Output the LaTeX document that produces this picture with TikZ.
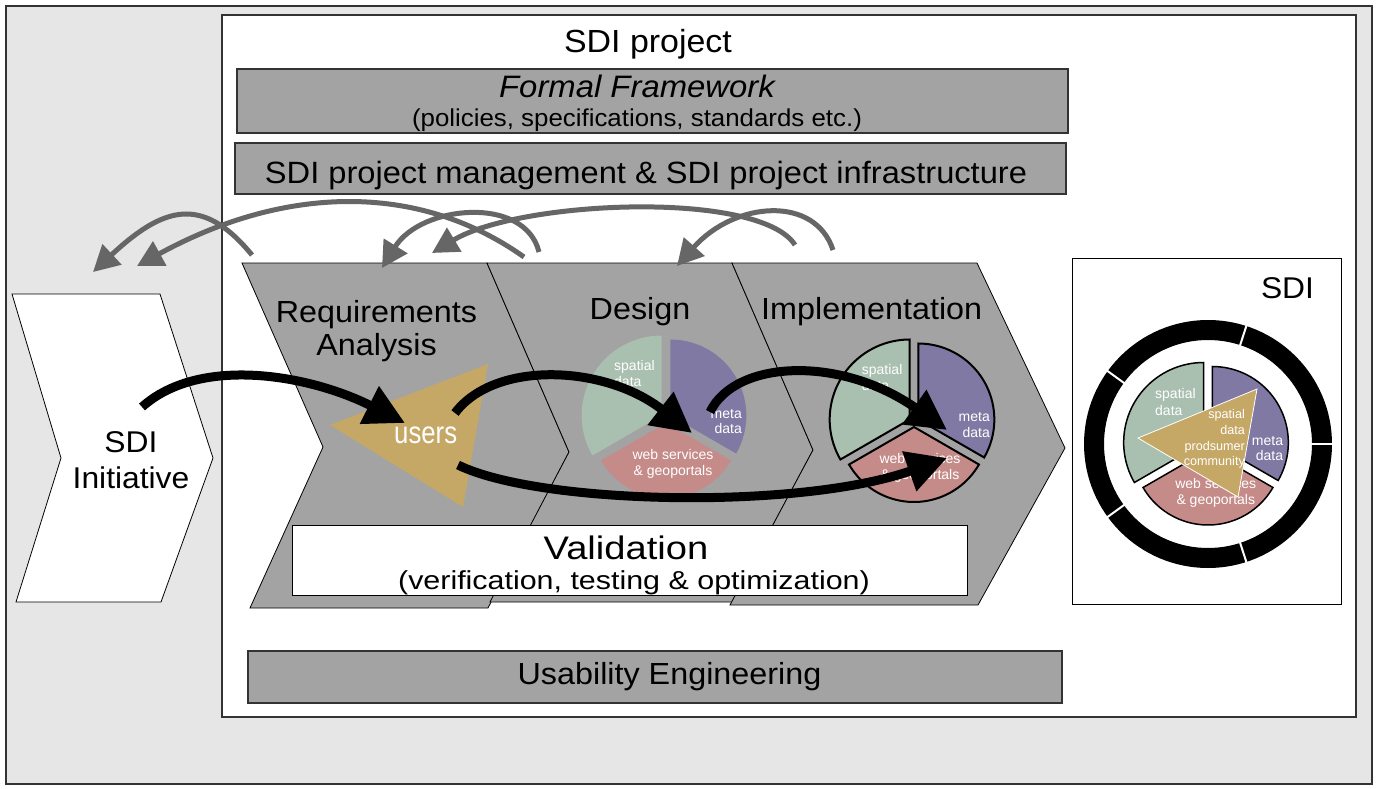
\documentclass[tikz,border=0pt]{standalone}
\usepackage{fontspec}
\setmainfont{Liberation Sans}
\newfontfamily\fW{Liberation Sans}[FakeStretch=1.06]
\newfontfamily\fV{Liberation Sans}[FakeStretch=1.17]
\newfontfamily\fC{Liberation Sans}[FakeStretch=0.83]
\usetikzlibrary{arrows.meta}
\definecolor{bgc}{HTML}{E6E6E6}
\definecolor{boxc}{HTML}{A3A3A3}
\definecolor{spc}{HTML}{A9BFB0}
\definecolor{mdc}{HTML}{7F79A3}
\definecolor{wsc}{HTML}{C48B89}
\definecolor{usc}{HTML}{C6A866}
\definecolor{garrow}{HTML}{666666}
\definecolor{edgec}{HTML}{333333}
\newcommand\pslice[7]{\path[#7] ({#1+5*cos(#3)},{#2+5*sin(#3)}) -- plot[domain=#4:#5,samples=40] ({#1+5*cos(#3)+#6*cos(\x)},{#2+5*sin(#3)+#6*sin(\x)}) -- cycle;}
\begin{document}
\begin{tikzpicture}[x=1pt,y=-1pt,
  graybox/.style={fill=boxc,draw=edgec,line width=1.5},
  phase/.style={fill=boxc,draw=black,line width=0.8},
  big/.style={font=\fW\fontsize{30.5}{36}\selectfont,inner sep=0,anchor=base},
  pl/.style={font=\fontsize{14}{16}\selectfont,text=white,inner sep=0},
  tl/.style={font=\fontsize{12.6}{15}\selectfont,text=white,inner sep=0,anchor=base east},
  backarrow/.style={draw=garrow,line width=5,-{Triangle[length=26pt,width=27pt]}},
  flowarrow/.style={draw=black,line width=9,-{Triangle[length=40pt,width=40pt]}}]
\useasboundingbox (0,0) rectangle (1377,789);
% frames
\draw[fill=bgc,draw=edgec,line width=1.5] (6,6) rectangle (1372,784);
\draw[fill=white,draw=edgec,line width=1.5] (222,15) rectangle (1356,717);
\node[big,font=\fW\fontsize{32}{36}\selectfont] (title) at (648,53) {SDI project};
% gray bars
\draw[graybox] (237,69) rectangle (1068,133);
\node[big,font=\fW\itshape\fontsize{31}{36}\selectfont] (ff) at (637,98) {Formal Framework};
\node[big,font=\fW\fontsize{24.4}{28}\selectfont] (ffsub) at (637,127) {(policies, specifications, standards etc.)};
\draw[graybox] (235,143) rectangle (1066,194);
\node[big,font=\fW\fontsize{30.8}{36}\selectfont] (mgmt) at (646,184) {SDI project management \& SDI project infrastructure};
\draw[graybox] (248,651) rectangle (1062,703);
\node[big] (ue) at (669.5,684) {Usability Engineering};
% SDI initiative
\draw[fill=white,draw=black,line width=0.8] (12,294) -- (160,294) -- (213,458) -- (161,602) -- (16,602) -- (61,458) -- cycle;
\node[big,font=\fW\fontsize{30}{36}\selectfont] (ini1) at (131,452) {SDI};
\node[big,font=\fW\fontsize{30}{36}\selectfont] (ini2) at (131,488) {Initiative};
% phases
\draw[phase] (242,263) -- (487,263) -- (569,452) -- (488,608) -- (250,608) -- (323,447) -- cycle;
\draw[phase] (487,263) -- (732,263) -- (813,450) -- (732,602) -- (490,602) -- (569,452) -- cycle;
\draw[phase] (732,263) -- (977,263) -- (1065,448) -- (978,605) -- (730,605) -- (813,450) -- cycle;
\draw[fill=white,draw=black,line width=0.8] (292,525) rectangle (967,595);
\node[big] (req1) at (376.5,322) {Requirements};
\node[big] (req2) at (376.5,355) {Analysis};
\node[big] (des) at (640,319) {Design};
\node[big] (imp) at (871.7,319) {Implementation};
\node[big,font=\fV\fontsize{32.6}{36}\selectfont] (val1) at (626,559) {Validation};
\node[big,font=\fV\fontsize{26}{30}\selectfont] (val2) at (634,589) {(verification, testing \& optimization)};
% users
\fill[usc] (330,425) -- (488,364) -- (463,507) -- cycle;
\node[big,font=\fC\fontsize{31}{36}\selectfont,text=white] (users) at (425.7,443) {users};
% design pie
\pslice{666}{418}{210}{150}{270}{80}{fill=spc}
\pslice{666}{418}{-30}{-90}{30}{76}{fill=mdc}
\pslice{666}{418}{90}{30}{150}{75}{fill=wsc}
\node[pl,anchor=base west] (d1) at (614,370) {spatial};
\node[pl,anchor=base west] (d2) at (614,386) {data};
\node[pl,anchor=base east] (d3) at (742,418) {meta};
\node[pl,anchor=base east] (d4) at (742,433) {data};
\node[pl,anchor=base] (d5) at (673,459) {web services};
\node[pl,anchor=base] (d6) at (673,475) {\& geoportals};
% implementation pie
\pslice{914}{422}{210}{150}{270}{80}{fill=spc,draw=black,line width=2}
\pslice{914}{422}{-30}{-90}{30}{76}{fill=mdc,draw=black,line width=2}
\pslice{914}{422}{90}{30}{150}{75}{fill=wsc,draw=black,line width=2}
\node[pl,anchor=base west] (i1) at (861.7,374) {spatial};
\node[pl,anchor=base west] (i2) at (861.7,390) {data};
\node[pl,anchor=base east] (i3) at (990,421.7) {meta};
\node[pl,anchor=base east] (i4) at (990,437.3) {data};
\node[pl,anchor=base] (i5) at (920,463.3) {web services};
\node[pl,anchor=base] (i6) at (920,479.3) {\& geoportals};
% SDI box
\draw[fill=white,draw=black,line width=1] (1072,258) rectangle (1341,604);
\node[big,font=\fW\fontsize{30}{36}\selectfont] (sdi) at (1287.5,298) {SDI};
\draw[line width=20] (1208,444) circle[radius=114];
\foreach \a in {0,72,144,216,288}
  \draw[white,line width=2] ({1208+102*cos(\a)},{444+102*sin(\a)}) -- ({1208+126*cos(\a)},{444+126*sin(\a)});
\pslice{1208}{445}{210}{150}{270}{80}{fill=spc,draw=black,line width=1.5}
\pslice{1208}{445}{-30}{-90}{30}{76}{fill=mdc,draw=black,line width=1.5}
\pslice{1208}{445}{90}{30}{150}{75}{fill=wsc,draw=black,line width=1.5}
\node[pl,anchor=base west] (s1) at (1155,398.3) {spatial};
\node[pl,anchor=base west] (s2) at (1155,415) {data};
\node[pl,anchor=base east] (s3) at (1283.3,445) {meta};
\node[pl,anchor=base east] (s4) at (1283.3,460.7) {data};
\node[pl,anchor=base] (s5) at (1215.8,488.3) {web services};
\node[pl,anchor=base] (s6) at (1215.8,504) {\& geoportals};
\draw[fill=usc,draw=white,line width=0.8] (1138,438) -- (1257,389) -- (1238,497) -- cycle;
\node[tl] (t1) at (1245,418.3) {spatial};
\node[tl] (t2) at (1245,434.3) {data};
\node[tl] (t3) at (1245,450) {prodsumer};
\node[tl] (t4) at (1245,465) {community};
% flow arrows
\coordinate (f1s) at (142,407); \coordinate (f1e) at (405,423);
\coordinate (f2s) at (455,413); \coordinate (f2e) at (692,433);
\coordinate (f3s) at (710,412); \coordinate (f3e) at (947,430);
\coordinate (f4s) at (458,465); \coordinate (f4e) at (947,458);
\draw[flowarrow] (f1s) .. controls (200,355) and (310,375) .. (f1e);
\draw[flowarrow] (f2s) .. controls (495,360) and (605,365) .. (f2e);
\draw[flowarrow] (f3s) .. controls (735,360) and (840,355) .. (f3e);
\draw[flowarrow] (f4s) .. controls (540,505) and (800,510) .. (f4e);
% feedback arrows
\coordinate (gAs) at (252,255); \coordinate (gAe) at (93,272);
\coordinate (gBs) at (524,257); \coordinate (gBe) at (137,266);
\coordinate (gCs) at (539,252); \coordinate (gCe) at (382,268);
\coordinate (gDs) at (795,245); \coordinate (gDe) at (432,253);
\coordinate (gEs) at (833,250); \coordinate (gEe) at (677,266);
\draw[backarrow] (gAs) .. controls (202,194) and (163,207) .. (gAe);
\draw[backarrow] (gBs) .. controls (417,181) and (283,186) .. (gBe);
\draw[backarrow] (gCs) .. controls (525,195) and (421,205) .. (gCe);
\draw[backarrow] (gDs) .. controls (760,190) and (520,200) .. (gDe);
\draw[backarrow] (gEs) .. controls (815,195) and (735,201) .. (gEe);
\end{tikzpicture}
\end{document}
